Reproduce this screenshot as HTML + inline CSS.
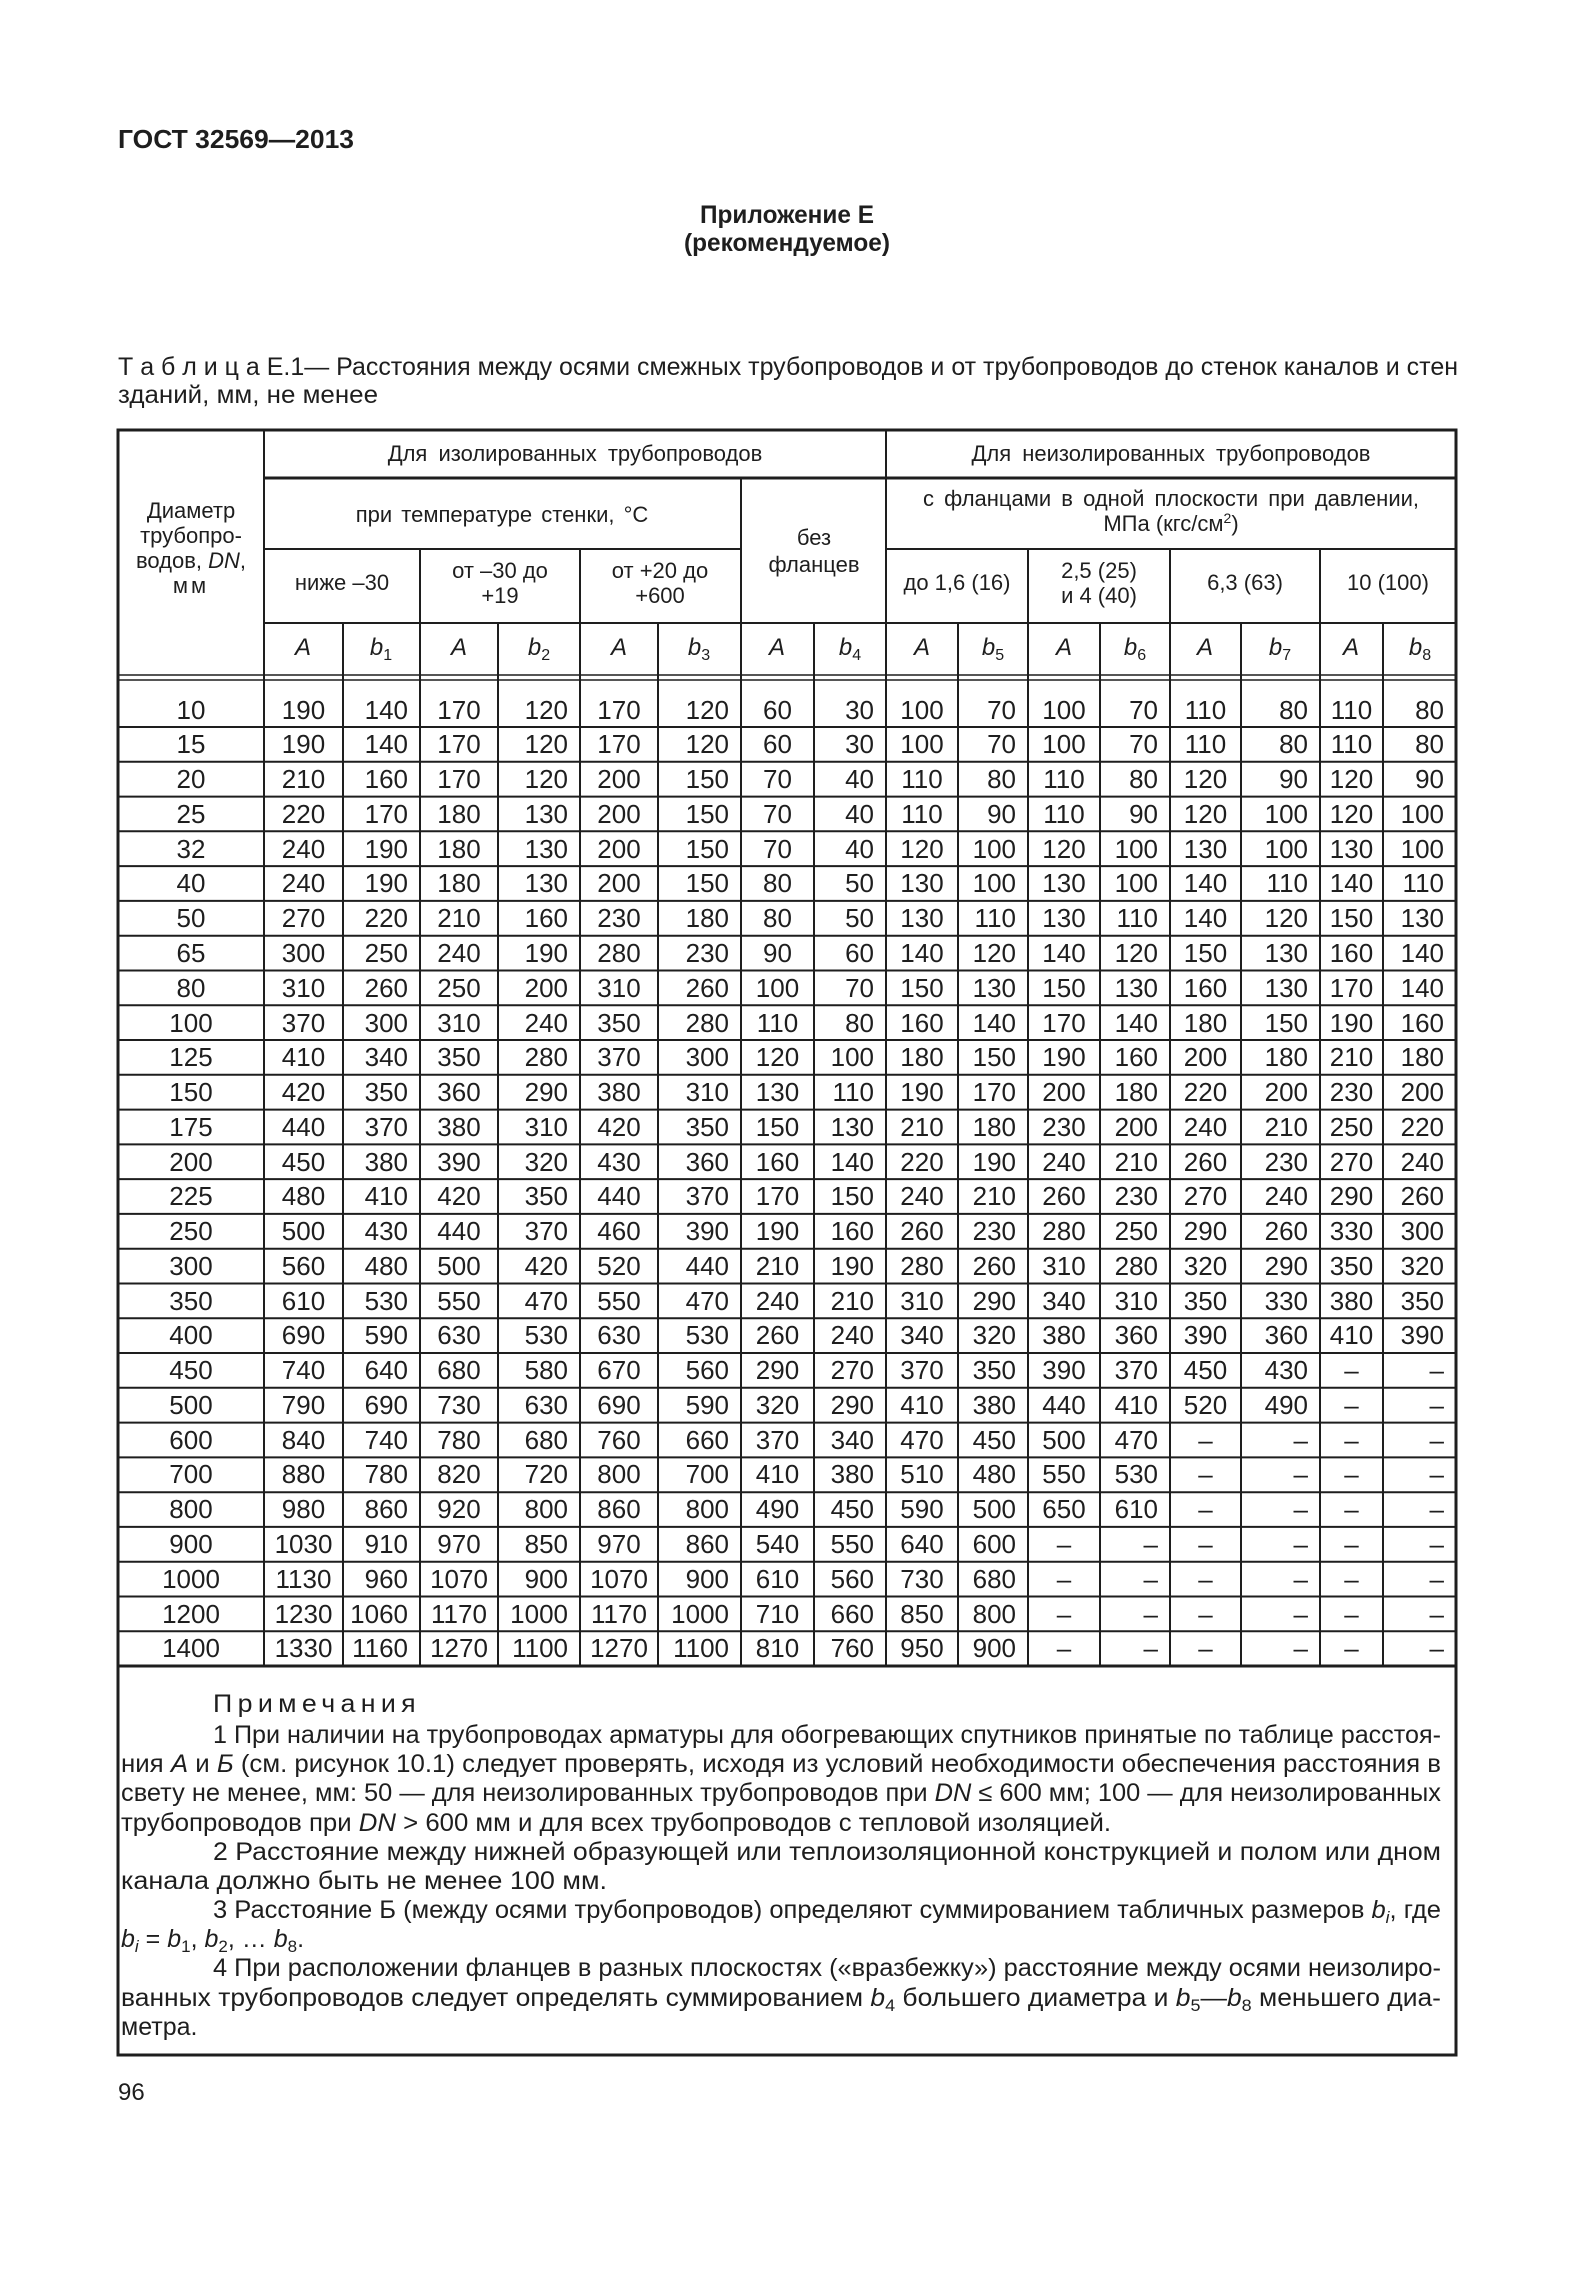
<!DOCTYPE html>
<html><head><meta charset="utf-8"><style>
html,body{margin:0;padding:0;background:#fff;}
body{width:1575px;height:2283px;position:relative;overflow:hidden;font-family:"Liberation Sans","DejaVu Sans",sans-serif;color:#1e1e1e;}
svg{position:absolute;left:0;top:0;}
table.d{position:absolute;left:118px;top:680px;border-collapse:collapse;table-layout:fixed;width:1338px;font-size:26px;}
table.d td{padding:0;height:34.78px;text-align:center;vertical-align:middle;line-height:26px;white-space:nowrap;}
table.d tr.f td{height:47px;padding-top:12px;box-sizing:border-box;}
table.d td.b{text-align:right;padding-right:12px;}
</style></head><body>
<svg width="1575" height="2283" xmlns="http://www.w3.org/2000/svg" font-family="Liberation Sans, DejaVu Sans, sans-serif" fill="#1e1e1e">
<text x="118" y="148" font-size="26" font-weight="bold" textLength="236" lengthAdjust="spacingAndGlyphs">ГОСТ 32569—2013</text>
<text x="700" y="223" font-size="25" font-weight="bold" textLength="174" lengthAdjust="spacingAndGlyphs">Приложение Е</text>
<text x="684" y="251" font-size="25" font-weight="bold" textLength="206" lengthAdjust="spacingAndGlyphs">(рекомендуемое)</text>
<text x="118" y="375" font-size="25" textLength="1340" lengthAdjust="spacingAndGlyphs">Т а б л и ц а  Е.1— Расстояния между осями смежных трубопроводов и от трубопроводов до стенок каналов и стен</text>
<text x="118" y="403" font-size="25" textLength="260" lengthAdjust="spacingAndGlyphs">зданий, мм, не менее</text>

<g stroke="#1e1e1e" stroke-width="2" fill="none">
<rect x="118" y="430" width="1338" height="1625" stroke-width="3"/>
<line x1="264" y1="430" x2="264" y2="1666"/>
<line x1="886" y1="430" x2="886" y2="1666"/>
<line x1="741" y1="478" x2="741" y2="1666"/>
<line x1="420" y1="549" x2="420" y2="1666"/>
<line x1="580" y1="549" x2="580" y2="1666"/>
<line x1="1028" y1="549" x2="1028" y2="1666"/>
<line x1="1170" y1="549" x2="1170" y2="1666"/>
<line x1="1320" y1="549" x2="1320" y2="1666"/>
<line x1="343" y1="623" x2="343" y2="1666"/>
<line x1="498" y1="623" x2="498" y2="1666"/>
<line x1="658" y1="623" x2="658" y2="1666"/>
<line x1="814" y1="623" x2="814" y2="1666"/>
<line x1="958" y1="623" x2="958" y2="1666"/>
<line x1="1100" y1="623" x2="1100" y2="1666"/>
<line x1="1241" y1="623" x2="1241" y2="1666"/>
<line x1="1383" y1="623" x2="1383" y2="1666"/>
<line x1="264" y1="478" x2="1456" y2="478" stroke-width="3"/>
<line x1="264" y1="549" x2="741" y2="549"/>
<line x1="886" y1="549" x2="1456" y2="549"/>
<line x1="264" y1="623" x2="1456" y2="623"/>
<line x1="118" y1="675" x2="1456" y2="675" stroke-width="1.5"/>
<line x1="118" y1="680" x2="1456" y2="680" stroke-width="1.5"/>
<line x1="118" y1="727" x2="1456" y2="727"/>
<line x1="118" y1="761.8" x2="1456" y2="761.8"/>
<line x1="118" y1="796.6" x2="1456" y2="796.6"/>
<line x1="118" y1="831.3" x2="1456" y2="831.3"/>
<line x1="118" y1="866.1" x2="1456" y2="866.1"/>
<line x1="118" y1="900.9" x2="1456" y2="900.9"/>
<line x1="118" y1="935.7" x2="1456" y2="935.7"/>
<line x1="118" y1="970.5" x2="1456" y2="970.5"/>
<line x1="118" y1="1005.2" x2="1456" y2="1005.2"/>
<line x1="118" y1="1040" x2="1456" y2="1040"/>
<line x1="118" y1="1074.8" x2="1456" y2="1074.8"/>
<line x1="118" y1="1109.6" x2="1456" y2="1109.6"/>
<line x1="118" y1="1144.4" x2="1456" y2="1144.4"/>
<line x1="118" y1="1179.1" x2="1456" y2="1179.1"/>
<line x1="118" y1="1213.9" x2="1456" y2="1213.9"/>
<line x1="118" y1="1248.7" x2="1456" y2="1248.7"/>
<line x1="118" y1="1283.5" x2="1456" y2="1283.5"/>
<line x1="118" y1="1318.3" x2="1456" y2="1318.3"/>
<line x1="118" y1="1353" x2="1456" y2="1353"/>
<line x1="118" y1="1387.8" x2="1456" y2="1387.8"/>
<line x1="118" y1="1422.6" x2="1456" y2="1422.6"/>
<line x1="118" y1="1457.4" x2="1456" y2="1457.4"/>
<line x1="118" y1="1492.2" x2="1456" y2="1492.2"/>
<line x1="118" y1="1526.9" x2="1456" y2="1526.9"/>
<line x1="118" y1="1561.7" x2="1456" y2="1561.7"/>
<line x1="118" y1="1596.5" x2="1456" y2="1596.5"/>
<line x1="118" y1="1631.3" x2="1456" y2="1631.3"/>
<line x1="118" y1="1666" x2="1456" y2="1666" stroke-width="3"/>
</g>

<g font-size="22" text-anchor="middle">
<text x="191" y="518">Диаметр</text>
<text x="191" y="543">трубопро-</text>
<text x="191" y="568">водов, <tspan font-style="italic">DN</tspan>,</text>
<text x="191" y="593" letter-spacing="3">мм</text>
<text x="575" y="461" word-spacing="5">Для изолированных трубопроводов</text>
<text x="1171" y="461" word-spacing="5">Для неизолированных трубопроводов</text>
<text x="502" y="522" word-spacing="3">при температуре стенки, °С</text>
<text x="814" y="545">без</text>
<text x="814" y="572">фланцев</text>
<text x="1171" y="506" word-spacing="4">с фланцами в одной плоскости при давлении,</text>
<text x="1171" y="531">МПа (кгс/см<tspan dy="-8" font-size="14">2</tspan><tspan dy="8">)</tspan></text>
<text x="342" y="590">ниже –30</text>
<text x="500" y="578">от –30 до</text>
<text x="500" y="603">+19</text>
<text x="660" y="578">от +20 до</text>
<text x="660" y="603">+600</text>
<text x="957" y="590">до 1,6 (16)</text>
<text x="1099" y="578">2,5 (25)</text>
<text x="1099" y="603">и 4 (40)</text>
<text x="1245" y="590">6,3 (63)</text>
<text x="1388" y="590">10 (100)</text>
</g>
<g font-size="24" font-style="italic" text-anchor="middle">
<text x="303" y="655">A</text>
<text x="381" y="655">b<tspan font-size="16" dy="5" font-style="normal">1</tspan></text>
<text x="459" y="655">A</text>
<text x="539" y="655">b<tspan font-size="16" dy="5" font-style="normal">2</tspan></text>
<text x="619" y="655">A</text>
<text x="699" y="655">b<tspan font-size="16" dy="5" font-style="normal">3</tspan></text>
<text x="777" y="655">A</text>
<text x="850" y="655">b<tspan font-size="16" dy="5" font-style="normal">4</tspan></text>
<text x="922" y="655">A</text>
<text x="993" y="655">b<tspan font-size="16" dy="5" font-style="normal">5</tspan></text>
<text x="1064" y="655">A</text>
<text x="1135" y="655">b<tspan font-size="16" dy="5" font-style="normal">6</tspan></text>
<text x="1205" y="655">A</text>
<text x="1280" y="655">b<tspan font-size="16" dy="5" font-style="normal">7</tspan></text>
<text x="1351" y="655">A</text>
<text x="1420" y="655">b<tspan font-size="16" dy="5" font-style="normal">8</tspan></text>
</g>

<g font-size="25">
<text x="213" y="1712" letter-spacing="5" textLength="208" lengthAdjust="spacingAndGlyphs">Примечания</text>
<text x="213" y="1743" textLength="1228" lengthAdjust="spacingAndGlyphs">1 При наличии на трубопроводах арматуры для обогревающих спутников принятые по таблице расстоя-</text>
<text x="121" y="1772" textLength="1320" lengthAdjust="spacingAndGlyphs">ния <tspan font-style="italic">А</tspan> и <tspan font-style="italic">Б</tspan> (см. рисунок 10.1) следует проверять, исходя из условий необходимости обеспечения расстояния в</text>
<text x="121" y="1801" textLength="1320" lengthAdjust="spacingAndGlyphs">свету не менее, мм: 50 — для неизолированных трубопроводов при <tspan font-style="italic">DN</tspan> ≤ 600 мм; 100 — для неизолированных</text>
<text x="121" y="1831" textLength="990" lengthAdjust="spacingAndGlyphs">трубопроводов при <tspan font-style="italic">DN</tspan> &gt; 600 мм и для всех трубопроводов с тепловой изоляцией.</text>
<text x="213" y="1860" textLength="1228" lengthAdjust="spacingAndGlyphs">2 Расстояние между нижней образующей или теплоизоляционной конструкцией и полом или дном</text>
<text x="121" y="1889" textLength="486" lengthAdjust="spacingAndGlyphs">канала должно быть не менее 100 мм.</text>
<text x="213" y="1918" textLength="1228" lengthAdjust="spacingAndGlyphs">3 Расстояние Б (между осями трубопроводов) определяют суммированием табличных размеров <tspan font-style="italic">b<tspan font-size="17" dy="5">i</tspan></tspan><tspan dy="-5">, где</tspan></text>
<text x="121" y="1947"><tspan font-style="italic">b</tspan><tspan font-size="17" dy="5" font-style="italic">i</tspan><tspan dy="-5"> = </tspan><tspan font-style="italic">b</tspan><tspan font-size="17" dy="5">1</tspan><tspan dy="-5">, </tspan><tspan font-style="italic">b</tspan><tspan font-size="17" dy="5">2</tspan><tspan dy="-5">, … </tspan><tspan font-style="italic">b</tspan><tspan font-size="17" dy="5">8</tspan><tspan dy="-5">.</tspan></text>
<text x="213" y="1976" textLength="1228" lengthAdjust="spacingAndGlyphs">4 При расположении фланцев в разных плоскостях («вразбежку») расстояние между осями неизолиро-</text>
<text x="121" y="2006" textLength="1320" lengthAdjust="spacingAndGlyphs">ванных трубопроводов следует определять суммированием <tspan font-style="italic">b</tspan><tspan font-size="17" dy="5">4</tspan><tspan dy="-5"> большего диаметра и </tspan><tspan font-style="italic">b</tspan><tspan font-size="17" dy="5">5</tspan><tspan dy="-5">—</tspan><tspan font-style="italic">b</tspan><tspan font-size="17" dy="5">8</tspan><tspan dy="-5"> меньшего диа-</tspan></text>
<text x="121" y="2035">метра.</text>
</g>
<text x="118" y="2100" font-size="24">96</text>
</svg>

<table class="d">
<colgroup><col style="width:146px"><col style="width:79px"><col style="width:77px"><col style="width:78px"><col style="width:82px"><col style="width:78px"><col style="width:83px"><col style="width:73px"><col style="width:72px"><col style="width:72px"><col style="width:70px"><col style="width:72px"><col style="width:70px"><col style="width:71px"><col style="width:79px"><col style="width:63px"><col style="width:73px"></colgroup>
<tr class="f"><td>10</td><td>190</td><td class="b">140</td><td>170</td><td class="b">120</td><td>170</td><td class="b">120</td><td>60</td><td class="b">30</td><td>100</td><td class="b">70</td><td>100</td><td class="b">70</td><td>110</td><td class="b">80</td><td>110</td><td class="b">80</td></tr>
<tr><td>15</td><td>190</td><td class="b">140</td><td>170</td><td class="b">120</td><td>170</td><td class="b">120</td><td>60</td><td class="b">30</td><td>100</td><td class="b">70</td><td>100</td><td class="b">70</td><td>110</td><td class="b">80</td><td>110</td><td class="b">80</td></tr>
<tr><td>20</td><td>210</td><td class="b">160</td><td>170</td><td class="b">120</td><td>200</td><td class="b">150</td><td>70</td><td class="b">40</td><td>110</td><td class="b">80</td><td>110</td><td class="b">80</td><td>120</td><td class="b">90</td><td>120</td><td class="b">90</td></tr>
<tr><td>25</td><td>220</td><td class="b">170</td><td>180</td><td class="b">130</td><td>200</td><td class="b">150</td><td>70</td><td class="b">40</td><td>110</td><td class="b">90</td><td>110</td><td class="b">90</td><td>120</td><td class="b">100</td><td>120</td><td class="b">100</td></tr>
<tr><td>32</td><td>240</td><td class="b">190</td><td>180</td><td class="b">130</td><td>200</td><td class="b">150</td><td>70</td><td class="b">40</td><td>120</td><td class="b">100</td><td>120</td><td class="b">100</td><td>130</td><td class="b">100</td><td>130</td><td class="b">100</td></tr>
<tr><td>40</td><td>240</td><td class="b">190</td><td>180</td><td class="b">130</td><td>200</td><td class="b">150</td><td>80</td><td class="b">50</td><td>130</td><td class="b">100</td><td>130</td><td class="b">100</td><td>140</td><td class="b">110</td><td>140</td><td class="b">110</td></tr>
<tr><td>50</td><td>270</td><td class="b">220</td><td>210</td><td class="b">160</td><td>230</td><td class="b">180</td><td>80</td><td class="b">50</td><td>130</td><td class="b">110</td><td>130</td><td class="b">110</td><td>140</td><td class="b">120</td><td>150</td><td class="b">130</td></tr>
<tr><td>65</td><td>300</td><td class="b">250</td><td>240</td><td class="b">190</td><td>280</td><td class="b">230</td><td>90</td><td class="b">60</td><td>140</td><td class="b">120</td><td>140</td><td class="b">120</td><td>150</td><td class="b">130</td><td>160</td><td class="b">140</td></tr>
<tr><td>80</td><td>310</td><td class="b">260</td><td>250</td><td class="b">200</td><td>310</td><td class="b">260</td><td>100</td><td class="b">70</td><td>150</td><td class="b">130</td><td>150</td><td class="b">130</td><td>160</td><td class="b">130</td><td>170</td><td class="b">140</td></tr>
<tr><td>100</td><td>370</td><td class="b">300</td><td>310</td><td class="b">240</td><td>350</td><td class="b">280</td><td>110</td><td class="b">80</td><td>160</td><td class="b">140</td><td>170</td><td class="b">140</td><td>180</td><td class="b">150</td><td>190</td><td class="b">160</td></tr>
<tr><td>125</td><td>410</td><td class="b">340</td><td>350</td><td class="b">280</td><td>370</td><td class="b">300</td><td>120</td><td class="b">100</td><td>180</td><td class="b">150</td><td>190</td><td class="b">160</td><td>200</td><td class="b">180</td><td>210</td><td class="b">180</td></tr>
<tr><td>150</td><td>420</td><td class="b">350</td><td>360</td><td class="b">290</td><td>380</td><td class="b">310</td><td>130</td><td class="b">110</td><td>190</td><td class="b">170</td><td>200</td><td class="b">180</td><td>220</td><td class="b">200</td><td>230</td><td class="b">200</td></tr>
<tr><td>175</td><td>440</td><td class="b">370</td><td>380</td><td class="b">310</td><td>420</td><td class="b">350</td><td>150</td><td class="b">130</td><td>210</td><td class="b">180</td><td>230</td><td class="b">200</td><td>240</td><td class="b">210</td><td>250</td><td class="b">220</td></tr>
<tr><td>200</td><td>450</td><td class="b">380</td><td>390</td><td class="b">320</td><td>430</td><td class="b">360</td><td>160</td><td class="b">140</td><td>220</td><td class="b">190</td><td>240</td><td class="b">210</td><td>260</td><td class="b">230</td><td>270</td><td class="b">240</td></tr>
<tr><td>225</td><td>480</td><td class="b">410</td><td>420</td><td class="b">350</td><td>440</td><td class="b">370</td><td>170</td><td class="b">150</td><td>240</td><td class="b">210</td><td>260</td><td class="b">230</td><td>270</td><td class="b">240</td><td>290</td><td class="b">260</td></tr>
<tr><td>250</td><td>500</td><td class="b">430</td><td>440</td><td class="b">370</td><td>460</td><td class="b">390</td><td>190</td><td class="b">160</td><td>260</td><td class="b">230</td><td>280</td><td class="b">250</td><td>290</td><td class="b">260</td><td>330</td><td class="b">300</td></tr>
<tr><td>300</td><td>560</td><td class="b">480</td><td>500</td><td class="b">420</td><td>520</td><td class="b">440</td><td>210</td><td class="b">190</td><td>280</td><td class="b">260</td><td>310</td><td class="b">280</td><td>320</td><td class="b">290</td><td>350</td><td class="b">320</td></tr>
<tr><td>350</td><td>610</td><td class="b">530</td><td>550</td><td class="b">470</td><td>550</td><td class="b">470</td><td>240</td><td class="b">210</td><td>310</td><td class="b">290</td><td>340</td><td class="b">310</td><td>350</td><td class="b">330</td><td>380</td><td class="b">350</td></tr>
<tr><td>400</td><td>690</td><td class="b">590</td><td>630</td><td class="b">530</td><td>630</td><td class="b">530</td><td>260</td><td class="b">240</td><td>340</td><td class="b">320</td><td>380</td><td class="b">360</td><td>390</td><td class="b">360</td><td>410</td><td class="b">390</td></tr>
<tr><td>450</td><td>740</td><td class="b">640</td><td>680</td><td class="b">580</td><td>670</td><td class="b">560</td><td>290</td><td class="b">270</td><td>370</td><td class="b">350</td><td>390</td><td class="b">370</td><td>450</td><td class="b">430</td><td>–</td><td class="b">–</td></tr>
<tr><td>500</td><td>790</td><td class="b">690</td><td>730</td><td class="b">630</td><td>690</td><td class="b">590</td><td>320</td><td class="b">290</td><td>410</td><td class="b">380</td><td>440</td><td class="b">410</td><td>520</td><td class="b">490</td><td>–</td><td class="b">–</td></tr>
<tr><td>600</td><td>840</td><td class="b">740</td><td>780</td><td class="b">680</td><td>760</td><td class="b">660</td><td>370</td><td class="b">340</td><td>470</td><td class="b">450</td><td>500</td><td class="b">470</td><td>–</td><td class="b">–</td><td>–</td><td class="b">–</td></tr>
<tr><td>700</td><td>880</td><td class="b">780</td><td>820</td><td class="b">720</td><td>800</td><td class="b">700</td><td>410</td><td class="b">380</td><td>510</td><td class="b">480</td><td>550</td><td class="b">530</td><td>–</td><td class="b">–</td><td>–</td><td class="b">–</td></tr>
<tr><td>800</td><td>980</td><td class="b">860</td><td>920</td><td class="b">800</td><td>860</td><td class="b">800</td><td>490</td><td class="b">450</td><td>590</td><td class="b">500</td><td>650</td><td class="b">610</td><td>–</td><td class="b">–</td><td>–</td><td class="b">–</td></tr>
<tr><td>900</td><td>1030</td><td class="b">910</td><td>970</td><td class="b">850</td><td>970</td><td class="b">860</td><td>540</td><td class="b">550</td><td>640</td><td class="b">600</td><td>–</td><td class="b">–</td><td>–</td><td class="b">–</td><td>–</td><td class="b">–</td></tr>
<tr><td>1000</td><td>1130</td><td class="b">960</td><td>1070</td><td class="b">900</td><td>1070</td><td class="b">900</td><td>610</td><td class="b">560</td><td>730</td><td class="b">680</td><td>–</td><td class="b">–</td><td>–</td><td class="b">–</td><td>–</td><td class="b">–</td></tr>
<tr><td>1200</td><td>1230</td><td class="b">1060</td><td>1170</td><td class="b">1000</td><td>1170</td><td class="b">1000</td><td>710</td><td class="b">660</td><td>850</td><td class="b">800</td><td>–</td><td class="b">–</td><td>–</td><td class="b">–</td><td>–</td><td class="b">–</td></tr>
<tr><td>1400</td><td>1330</td><td class="b">1160</td><td>1270</td><td class="b">1100</td><td>1270</td><td class="b">1100</td><td>810</td><td class="b">760</td><td>950</td><td class="b">900</td><td>–</td><td class="b">–</td><td>–</td><td class="b">–</td><td>–</td><td class="b">–</td></tr>
</table>
</body></html>
